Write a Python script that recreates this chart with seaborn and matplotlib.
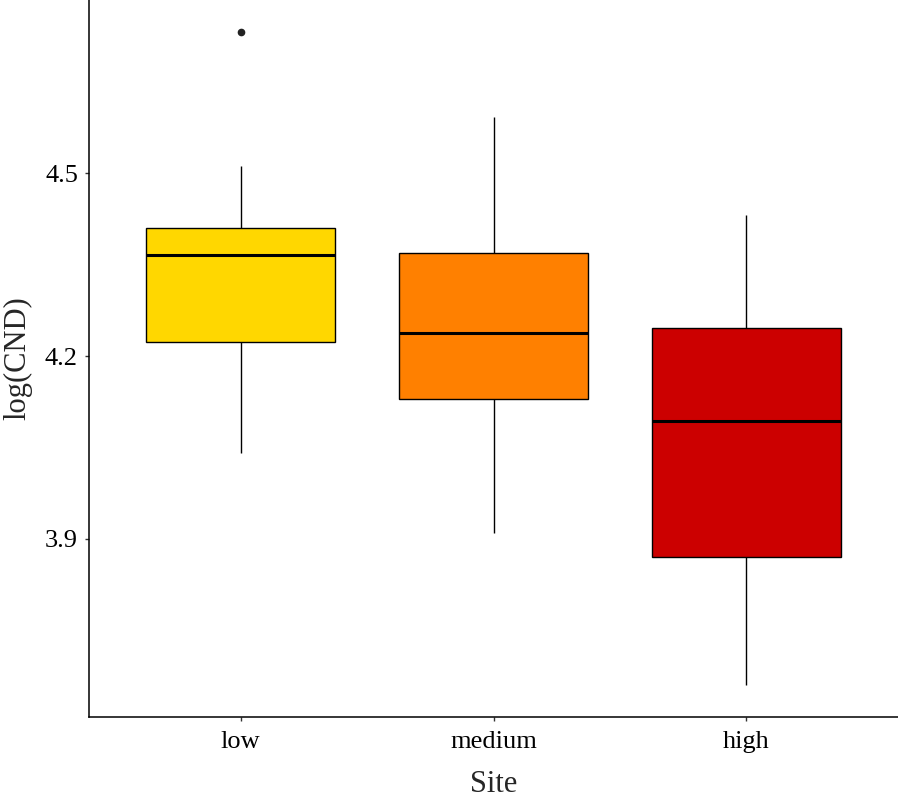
import numpy as np
import pandas as pd
import matplotlib
matplotlib.use("Agg")
import matplotlib.pyplot as plt
import seaborn as sns

sites = ["low", "medium", "high"]
# values chosen so that quartiles / whiskers / outlier match the picture
low_vals = [4.041, 4.13, 4.223, 4.30, 4.366, 4.39, 4.41, 4.511, 4.731]
medium_vals = [3.91, 4.02, 4.13, 4.19, 4.238, 4.30, 4.369, 4.48, 4.592]
high_vals = [3.661, 3.76, 3.87, 3.98, 4.093, 4.17, 4.246, 4.34, 4.431]
colors = ["#FFD700", "#FF8000", "#CC0000"]

df = pd.DataFrame({
    "Site": ["low"] * len(low_vals) + ["medium"] * len(medium_vals) + ["high"] * len(high_vals),
    "logCND": low_vals + medium_vals + high_vals,
})

sns.set_style("white")
plt.rcParams['font.family'] = ['Liberation Serif', 'DejaVu Serif']

fig = plt.figure(figsize=(8.98, 7.99), dpi=100)
ax = fig.add_axes([89 / 898, 1 - 717 / 799, (898 - 89) / 898, 717 / 799])

sns.boxplot(data=df, x="Site", y="logCND", hue="Site", order=sites, hue_order=sites,
            palette=colors, width=0.75, whis=1.5, linewidth=1.0, linecolor="black",
            saturation=1, legend=False, ax=ax,
            medianprops=dict(linewidth=2.2, color="black"),
            whiskerprops=dict(linewidth=1.0),
            capprops=dict(linewidth=0),
            flierprops=dict(marker="o", markersize=4.5, markerfacecolor="#222222",
                            markeredgecolor="#222222"))

ax.set_xlim(-0.6, 2.6)
ax.set_ylim(3.608, 4.784)
ax.set_yticks([3.9, 4.2, 4.5])
ax.set_yticklabels(["3.9", "4.2", "4.5"])
for s in ["top", "right"]:
    ax.spines[s].set_visible(False)
for s in ["left", "bottom"]:
    ax.spines[s].set_color("black")
    ax.spines[s].set_linewidth(1.1)
ax.tick_params(axis="both", which="major", direction="out", length=3, width=1,
               color="#333333", labelsize=19, labelcolor="black",
               left=True, bottom=True)
ax.tick_params(axis="x", pad=7)
ax.tick_params(axis="y", pad=5)
ax.set_xlabel("Site", fontsize=22, labelpad=12)
ax.set_ylabel("log(CND)", fontsize=22, labelpad=9)

fig.savefig("out.png", dpi=100)
